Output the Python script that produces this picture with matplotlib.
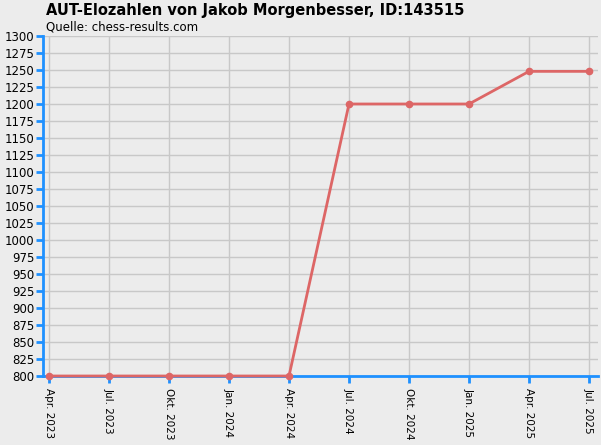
import matplotlib
matplotlib.use("Agg")
import matplotlib.pyplot as plt

labels = ["Apr. 2023","Jul. 2023","Okt. 2023","Jan. 2024","Apr. 2024","Jul. 2024","Okt. 2024","Jan. 2025","Apr. 2025","Jul. 2025"]
elo = [800,800,800,800,800,1200,1200,1200,1248,1248]

bg = "#ececec"
fig = plt.figure(figsize=(6.01,4.45), dpi=100, facecolor=bg)
W,H = 601,445
ax = fig.add_axes([43/W, 1-376/H, (598-43)/W, (376-36)/H], facecolor=bg)
x = list(range(len(labels)))
ax.plot(x, elo, color="#dd6666", lw=2, marker="o", ms=4.5, zorder=3, clip_on=False)
ax.set_xlim(-0.1, 9.15)
ax.set_ylim(800, 1300)
ax.set_yticks(range(800,1301,25))
ax.set_xticks(x)
ax.set_xticklabels(labels, rotation=-90, fontsize=7.5)
ax.tick_params(axis='y', labelsize=8.5, direction='out', length=5, width=2, color="#1e90ff", pad=1)
ax.tick_params(axis='x', length=5, width=2, color="#1e90ff", direction='out', pad=4)
ax.grid(True, color="#c8c8c8", lw=1)
ax.set_axisbelow(True)
for s in ["top","right"]:
    ax.spines[s].set_visible(False)
for s in ["left","bottom"]:
    ax.spines[s].set_color("#1e90ff"); ax.spines[s].set_linewidth(2)
fig.text(46/W, 1-11/H, "AUT-Elozahlen von Jakob Morgenbesser, ID:143515", fontsize=10.5, fontweight="bold", va="center")
fig.text(46/W, 1-27/H, "Quelle: chess-results.com", fontsize=8.5, va="center")
fig.savefig("out.png", dpi=100, facecolor=bg)
